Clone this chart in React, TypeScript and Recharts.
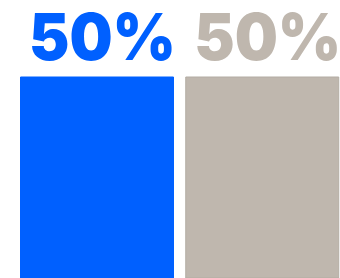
import React from "react";
import { BarChart, Bar, XAxis, YAxis, Cell, LabelList } from "recharts";

const categories = ["A", "B"];
const values = [50, 50];
const labels = ["50%", "50%"];
const colors = ["#0060ff", "#bfb7ae"];
const strokes = ["#0060ff", "#b3aca3"];

const data = categories.map((c, i) => ({ name: c, value: values[i], label: labels[i] }));

const renderLabel = (props: any) => {
  const { x, y, index } = props;
  return (
    <text
      x={Number(x) + 8.5}
      y={Number(y) - 17}
      textAnchor="start"
      fill={colors[index]}
      fontFamily="Inter, sans-serif"
      fontWeight={900}
      fontSize={65}
      textLength={147}
      lengthAdjust="spacingAndGlyphs"
    >
      {labels[index]}
    </text>
  );
};

export default function App() {
  return (
    <div style={{ position: "absolute", left: 0, top: 0, width: 340, height: 278, overflow: "hidden" }}>
      <BarChart
        width={345}
        height={278}
        data={data}
        margin={{ top: 77, right: 0, bottom: 0, left: 14.5 }}
        barCategoryGap={6}
      >
        <XAxis dataKey="name" hide />
        <YAxis hide domain={[0, 50]} />
        <Bar dataKey="value" isAnimationActive={false}>
          {data.map((d, i) => (
            <Cell key={d.name} fill={colors[i]} stroke={strokes[i]} strokeWidth={1} />
          ))}
          <LabelList dataKey="label" content={renderLabel} />
        </Bar>
      </BarChart>
    </div>
  );
}
